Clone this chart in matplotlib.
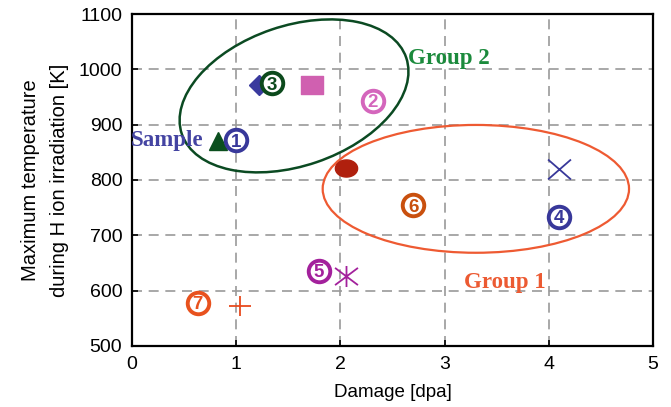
import numpy as np
import matplotlib
matplotlib.use("Agg")
import matplotlib.pyplot as plt
from matplotlib.patches import Ellipse
from matplotlib.path import Path
from matplotlib.transforms import Affine2D

# ---------------- data ----------------
# plotted symbols (damage [dpa], temperature [K])
tri_x, tri_y = [0.83], [870]            # dark green triangle
dia_x, dia_y = [1.22], [972]            # blue diamond
sq_x, sq_y = [1.73], [972]              # pink square
ell_x, ell_y = [2.05], [822]            # dark red filled ellipse
xm_x, xm_y = [4.10], [819]              # blue X
ast_x, ast_y = [2.05], [626]            # magenta asterisk
plus_x, plus_y = [1.04], [573]          # orange plus

# circled-number labels
num_x = [1.00, 2.31, 1.34, 4.10, 1.79, 2.70, 0.63]
num_y = [872, 943, 975, 734, 636, 754, 578]
num_text = ["1", "2", "3", "4", "5", "6", "7"]
num_color = ["#38389a", "#d466bc", "#0c4a1c", "#38389a", "#a3219c", "#c9500e", "#e8521e"]

# group ellipses
g2_center, g2_w_px, g2_h_px, g2_angle = (1.555, 952), 237, 140, 18.8
g1_center, g1_width, g1_height = (3.30, 784), 2.94, 231

x_ticks = [0, 1, 2, 3, 4, 5]
y_ticks = [500, 600, 700, 800, 900, 1000, 1100]

# ---------------- figure ----------------
plt.rcParams['font.family'] = ['Liberation Sans', 'DejaVu Sans']
fig = plt.figure(figsize=(6.71, 4.07), dpi=100)
ax = fig.add_axes([132/671, 1 - 346/407, (653 - 132)/671, (346 - 14)/407])
ax.set_xlim(0, 5)
ax.set_ylim(500, 1100)
ax.set_xticks(x_ticks)
ax.set_yticks(y_ticks)
ax.tick_params(direction='in', length=4, width=1.2, labelsize=14, pad=7, colors='black')
for s in ax.spines.values():
    s.set_linewidth(1.6)
ax.grid(True, color='#9a9a9a', linestyle=(0, (6, 4)), linewidth=1.2)
ax.set_axisbelow(True)

ax.set_xlabel("Damage [dpa]", fontsize=13.5, labelpad=8)
ax.set_ylabel("Maximum temperature\nduring H ion irradiation [K]", fontsize=14.5, labelpad=7,
              linespacing=1.65)

# pixel scale of the data (for true-shaped ellipses)
sx = (653 - 132) / 5.0
sy = (346 - 14) / 600.0
pix = Affine2D().scale(1/sx, 1/sy) + ax.transData

# group ellipses
e2 = Ellipse((g2_center[0]*sx, g2_center[1]*sy), g2_w_px, g2_h_px, angle=g2_angle,
             fill=False, edgecolor='#0b4a22', linewidth=1.8, transform=pix, zorder=2)
ax.add_patch(e2)
e1 = Ellipse(g1_center, g1_width, g1_height, fill=False, edgecolor='#ee5a32',
             linewidth=1.6, zorder=2)
ax.add_patch(e1)

# custom markers
rect = Path([(-1.3, -1), (1.3, -1), (1.3, 1), (-1.3, 1), (-1.3, -1)],
            [Path.MOVETO, Path.LINETO, Path.LINETO, Path.LINETO, Path.CLOSEPOLY])
t = np.linspace(0, 2*np.pi, 60)
oval = Path(np.column_stack([1.3*np.cos(t), np.sin(t)]))
xpath = Path([(-1.15, -1), (1.15, 1), (-1.15, 1), (1.15, -1)],
             [Path.MOVETO, Path.LINETO, Path.MOVETO, Path.LINETO])
astpath = Path([(0, -1.1), (0, 1.1), (-1.2, -0.9), (1.2, 0.9), (-1.2, 0.9), (1.2, -0.9)],
               [Path.MOVETO, Path.LINETO, Path.MOVETO, Path.LINETO, Path.MOVETO, Path.LINETO])
pluspath = Path([(-1.2, 0), (1.2, 0), (0, -1), (0, 1)],
                [Path.MOVETO, Path.LINETO, Path.MOVETO, Path.LINETO])

ax.plot(tri_x, tri_y, linestyle='none', marker='^', ms=12.5, color='#0b4f1e', mec='#0b4f1e', zorder=4)
ax.plot(dia_x, dia_y, linestyle='none', marker='D', ms=10, color='#3a3a9e', mec='#3a3a9e', zorder=4)
ax.plot(sq_x, sq_y, linestyle='none', marker=rect, ms=16, color='#d060b0', mec='#d060b0', zorder=4)
ax.plot(ell_x, ell_y, linestyle='none', marker=oval, ms=16, color='#b0200e', mec='#b0200e', zorder=4)
ax.plot(xm_x, xm_y, linestyle='none', marker=xpath, ms=16.5, color='#38389a', mew=1.3, zorder=4)
ax.plot(ast_x, ast_y, linestyle='none', marker=astpath, ms=16.5, color='#a3219c', mew=1.3, zorder=4)
ax.plot(plus_x, plus_y, linestyle='none', marker=pluspath, ms=16.5, color='#e84a1e', mew=1.3, zorder=4)

# circled numbers
for x, y, txt, c in zip(num_x, num_y, num_text, num_color):
    ax.plot([x], [y], linestyle='none', marker='o', ms=15.5, mfc='white', mec=c, mew=2.8, zorder=5)
    ax.text(x, y, txt, color=c, fontsize=13.5, fontweight='bold', ha='center', va='center_baseline',
            zorder=6)

# group / sample labels
serif = ['Liberation Serif', 'DejaVu Serif']
ax.text(0.34, 871, "Sample", family=serif, fontweight='bold', fontsize=16.5, color='#4444a2',
        ha='center', va='center', clip_on=False, zorder=6)
ax.text(3.04, 1020, "Group 2", family=serif, fontweight='bold', fontsize=16.5, color='#1b8a3c',
        ha='center', va='center', zorder=6)
ax.text(3.58, 615, "Group 1", family=serif, fontweight='bold', fontsize=16.5, color='#ec5a32',
        ha='center', va='center', zorder=6)

fig.savefig("out.png", dpi=100)
